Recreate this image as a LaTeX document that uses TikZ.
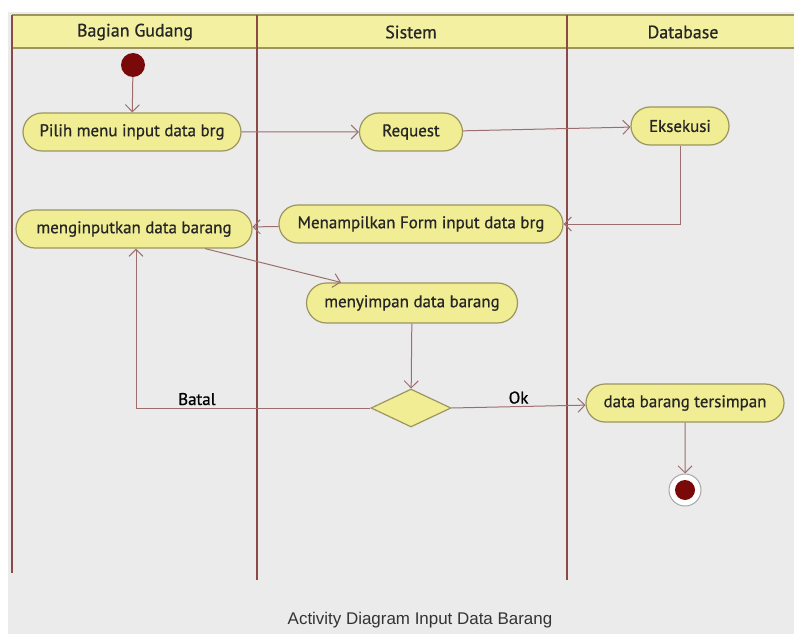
\documentclass[tikz,border=0pt]{standalone}
\usepackage{fontspec}
\setmainfont{PT Sans}
\newfontfamily\actfont{PT Sans}[FakeBold=0.8]
\newfontfamily\capfont{Liberation Sans}
\usetikzlibrary{shapes.misc,shapes.geometric,arrows.meta}

\definecolor{bggrey}{HTML}{EBEBEB}
\definecolor{actfill}{HTML}{F1ED94}
\definecolor{actline}{HTML}{9C9560}
\definecolor{flowline}{HTML}{9E6E6E}
\definecolor{laneline}{HTML}{8B4A48}
\definecolor{headfill}{HTML}{F4F0A2}
\definecolor{startred}{HTML}{7A0A0A}

\begin{document}
\begin{tikzpicture}[x=1bp,y=-1bp,
  act/.style={rounded rectangle, draw=actline, fill=actfill, line width=1.2bp, minimum height=38bp, inner sep=2bp, text=black!85, font=\actfont\fontsize{17}{17}\selectfont},
  head/.style={text=black!85, font=\actfont\fontsize{18}{18}\selectfont},
  flow/.style={draw=flowline, line width=1bp, -{Straight Barb[length=7bp,width=14bp]}},
  lane/.style={draw=laneline, line width=2.6bp}]
\useasboundingbox (0,0) rectangle (794,634);
\fill[bggrey] (8,12) rectangle (794,634);
% swimlanes
\fill[headfill] (12,15) rectangle (794,48);
\draw[actline, line width=1.2bp] (12,15) -- (794,15) (12,48) -- (794,48);
\draw[lane] (12,15) -- (12,573);
\draw[lane] (257,15) -- (257,580);
\draw[lane] (567,15) -- (567,580);
\node at (135,32) (H1) [head] {Bagian Gudang};
\node at (411,32) (H2) [head] {Sistem};
\node at (683,32) (H3) [head] {Database};
% activities
\node at (133,65) (S) [circle, fill=startred, minimum size=24bp, inner sep=0pt] {};
\node at (132,132) (A) [act, minimum width=222bp] {Pilih menu input data brg};
\node at (411,132) (B) [act, minimum width=107bp] {Request};
\node at (680,126) (C) [act, minimum width=102bp] {Eksekusi};
\node at (421,224) (D) [act, minimum width=288bp] {Menampilkan Form input data brg};
\node at (134,229) (E) [act, minimum width=240bp] {menginputkan data barang};
\node at (412,303) (F) [act, minimum width=215bp, minimum height=40bp] {menyimpan data barang};
\node at (411,408) (G) [diamond, draw=actline, fill=actfill, line width=1.2bp, inner sep=0pt, minimum width=80bp, minimum height=38bp] {};
\node at (685,403) (K) [act, minimum width=202bp] {data barang tersimpan};
\node at (685,490) (Z) [circle, draw=black!35, fill=white, line width=1bp, minimum size=32bp, inner sep=0pt] {};
\fill[startred] (Z) circle (10bp);
% flows
\draw[flow] (S) -- (A);
\draw[flow] (A) -- (B);
\draw[flow] (B) -- (C);
\draw[flow] (C.south) |- (D.east);
\draw[flow] (D) -- (E);
\draw[flow] ([xshift=71bp]E.south) -- ([xshift=-71bp]F.north);
\draw[flow] (F) -- (G);
\draw[flow] (G.west) -| node[pos=0.37, above=-1bp, font=\actfont\fontsize{17}{17}\selectfont] {Batal} ([xshift=2bp]E.south);
\draw[flow] (G.east) -- node[above=-1bp, font=\actfont\fontsize{17}{17}\selectfont] {Ok} (K);
\draw[flow] (K) -- (Z);
\node at (420,620) (T) [font=\capfont\fontsize{17}{17}\selectfont, text=black!80] {Activity Diagram Input Data Barang};
\end{tikzpicture}
\end{document}
